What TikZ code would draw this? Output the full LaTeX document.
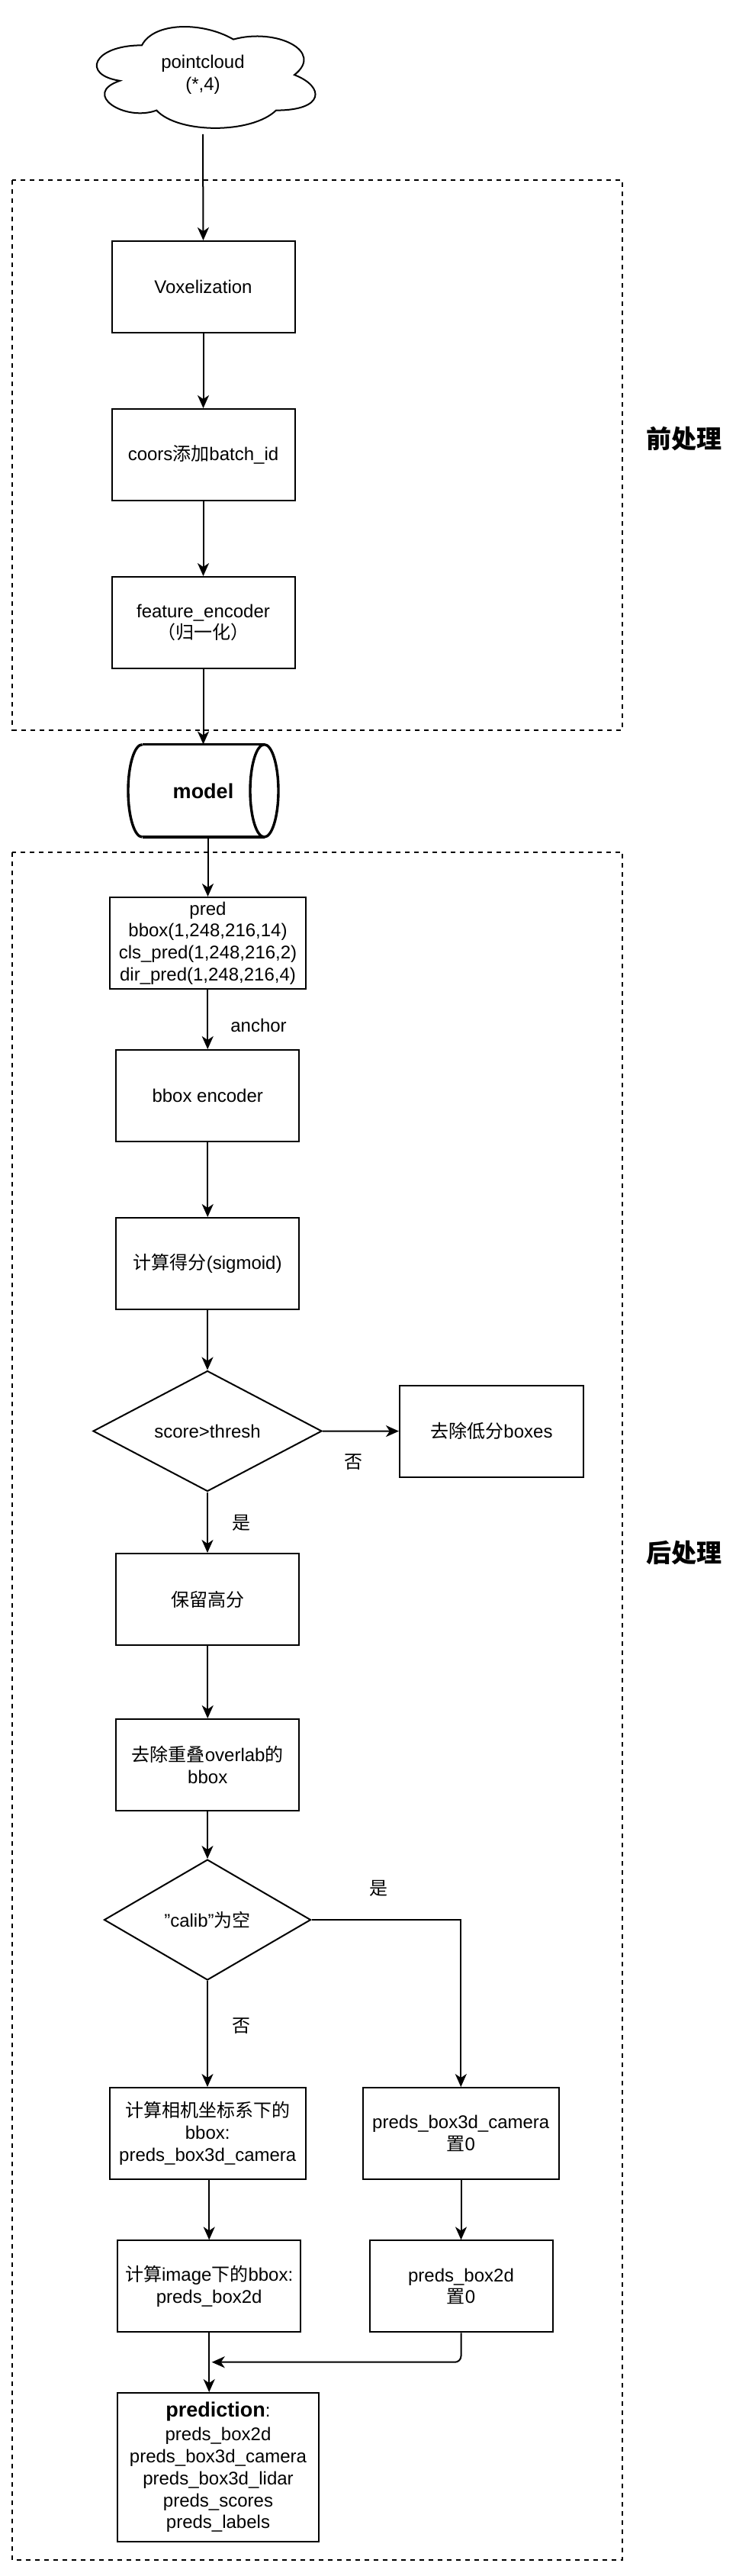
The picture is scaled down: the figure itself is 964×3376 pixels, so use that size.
\documentclass[tikz,border=0pt]{standalone}
\usepackage{fontspec}
\setmainfont{Liberation Sans}
\newfontfamily\cjk{Noto Sans CJK SC}
\newcommand{\zh}[1]{{\cjk #1}}
\usetikzlibrary{shapes.geometric,arrows.meta}
\begin{document}
\begin{tikzpicture}[x=1pt,y=-1pt,
  every node/.style={font=\fontsize{24}{28.8}\selectfont,text=black},
  box/.style={draw,line width=2pt,inner sep=0pt,align=center,minimum width=240pt,minimum height=120pt},
  dia/.style={diamond,draw,line width=2pt,inner sep=0pt,align=center},
  arr/.style={line width=2pt,-{Stealth[length=17pt,width=15pt,inset=5pt]}},
  group/.style={line width=2pt,dash pattern=on 6pt off 6pt},
  cyl/.style={line width=3.4pt},
  lbl/.style={inner sep=0pt},
  sect/.style={inner sep=0pt,font=\fontsize{33}{40}\selectfont\bfseries}]
\useasboundingbox (0,0) rectangle (964,3376);
\fill[white] (0,0) rectangle (964,3376);

% group frames
\draw[group] (16,236) rectangle (816,956.5);
\draw[group] (16,1116.7) rectangle (816,3355);
\node[sect] (pre) at (896.7,575) {\zh{前处理}};
\node[sect] (post) at (896.7,2035) {\zh{后处理}};

% cloud
\draw[line width=2pt] (186,59.35) .. controls (122,59.35) and (106,98.1) .. (157.2,105.85)
  .. controls (106,122.9) and (163.6,160.1) .. (205.2,144.6)
  .. controls (234,175.6) and (330,175.6) .. (362,144.6)
  .. controls (426,144.6) and (426,113.6) .. (386,98.1)
  .. controls (426,67.1) and (362,36.1) .. (306,51.6)
  .. controls (266,28.35) and (202,28.35) .. (186,59.35) -- cycle;
\node[inner sep=0pt,minimum width=320pt,minimum height=155pt,align=center] (cloud) at (266,98.1) {pointcloud\\(*,4)};

% preprocessing
\node[box] (vox) at (266.5,376) {Voxelization};
\node[box] (coors) at (266.5,596) {coors\zh{添加}batch\_id};
\node[box] (fe) at (266.5,816) {feature\_encoder\\\zh{（归一化）}};

% model cylinder
\node[inner sep=0pt,minimum width=197pt,minimum height=121.3pt,font=\fontsize{27}{32}\selectfont\bfseries] (model) at (266.5,1036.35) {model};
\draw[cyl] (186.5,975.7) -- (346.5,975.7);
\draw[cyl] (186.5,1097) -- (346.5,1097);
\draw[cyl] (346.5,1036.35) ellipse [x radius=18.5,y radius=60.65];
\draw[cyl] (186.5,975.7) arc[start angle=270,end angle=90,x radius=18.5,y radius=60.65];

% postprocessing
\node[box,minimum width=257pt] (pred) at (272.5,1236) {pred\\bbox(1,248,216,14)\\cls\_pred(1,248,216,2)\\dir\_pred(1,248,216,4)};
\node[box] (bbenc) at (272.25,1436) {bbox encoder};
\node[box] (score) at (272.25,1656) {\zh{计算得分}(sigmoid)};
\node[dia,minimum width=300pt,minimum height=158pt] (d1) at (272,1875.5) {score>thresh};
\node[box,minimum width=241pt] (low) at (644.5,1875.6) {\zh{去除低分}boxes};
\node[box] (keep) at (272.25,2096) {\zh{保留高分}};
\node[box] (nms) at (272.25,2313) {\zh{去除重叠}overlab\zh{的}\\bbox};
\node[dia,minimum width=271pt,minimum height=158pt] (d2) at (272,2516) {"calib"\zh{为空}};
\node[box,minimum width=257pt] (cam) at (272.25,2796) {\zh{计算相机坐标系下的}\\bbox:\\preds\_box3d\_camera};
\node[box,minimum width=257pt] (cam0) at (604.3,2796) {preds\_box3d\_camera\\\zh{置}0};
\node[box] (img) at (274.2,2996.4) {\zh{计算}image\zh{下的}bbox:\\preds\_box2d};
\node[box] (b2d0) at (604.5,2996.4) {preds\_box2d\\\zh{置}0};
\node[box,minimum width=264pt,minimum height=194.5pt] (prediction) at (286,3233.25) {{\fontsize{27}{32}\selectfont\bfseries prediction}:\\[2.5pt]preds\_box2d\\preds\_box3d\_camera\\preds\_box3d\_lidar\\preds\_scores\\preds\_labels};

% labels
\node[lbl] (lanchor) at (339,1344) {anchor};
\node[lbl] (lno1) at (463,1916) {\zh{否}};
\node[lbl] (lyes1) at (316.5,1996) {\zh{是}};
\node[lbl] (lyes2) at (496.6,2475) {\zh{是}};
\node[lbl] (lno2) at (316.5,2655) {\zh{否}};

% connectors
\draw[arr] (cloud.south) -- (vox.north);
\draw[arr] (vox.south) -- (coors.north);
\draw[arr] (coors.south) -- (fe.north);
\draw[arr] (fe.south) -- (model.north);
\draw[arr] (model.south -| pred.north) -- (pred.north);
\draw[arr] (pred.south -| bbenc.north) -- (bbenc.north);
\draw[arr] (bbenc.south) -- (score.north);
\draw[arr] (score.south -| d1.north) -- (d1.north);
\draw[arr] (d1.east) -- (low.west);
\draw[arr] (d1.south) -- (keep.north -| d1.south);
\draw[arr] (keep.south) -- (nms.north);
\draw[arr] (nms.south -| d2.north) -- (d2.north);
\draw[arr] (d2.east) -| (cam0.north);
\draw[arr] (d2.south) -- (cam.north -| d2.south);
\draw[arr] (cam.south -| img.north) -- (img.north);
\draw[arr] (cam0.south -| b2d0.north) -- (b2d0.north);
\draw[arr] (img.south) -- (prediction.north -| img.south);
\coordinate (mergetip) at (277.7,3095.7);
\draw[arr,rounded corners=8pt] (b2d0.south) |- (mergetip);
\end{tikzpicture}
\end{document}
